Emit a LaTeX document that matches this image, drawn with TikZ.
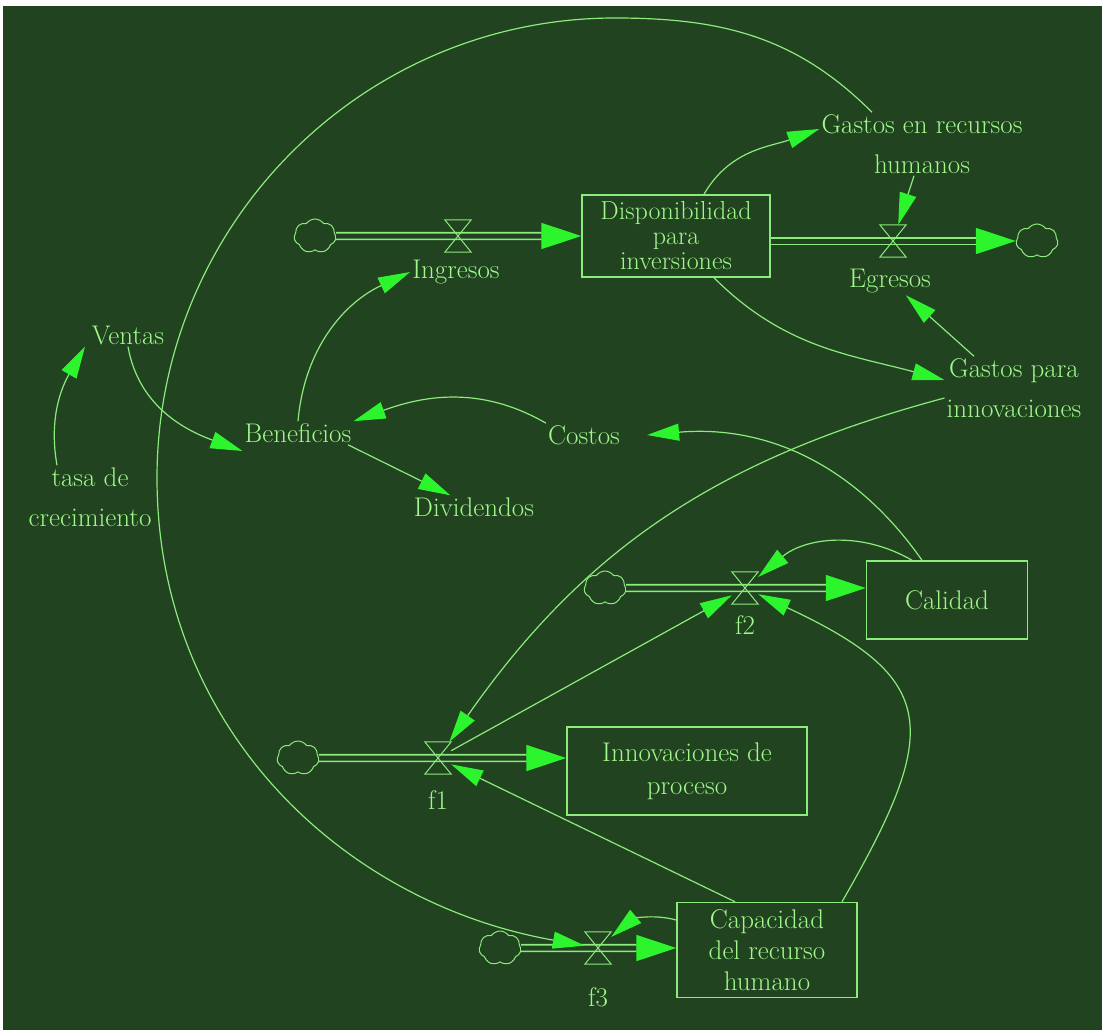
\documentclass[tikz,border=0pt]{standalone}
\usepackage{fontspec}
\usepackage{tikz}
\usetikzlibrary{arrows.meta,shapes.symbols}
\definecolor{bgc}{RGB}{33,67,32}
\definecolor{linec}{RGB}{140,235,125}
\definecolor{tipc}{RGB}{45,245,45}
\definecolor{textc}{RGB}{160,248,140}

\begin{document}
\begin{tikzpicture}[x=1pt,y=-1pt,
  var/.style={text=textc,font=\fontsize{27}{40}\selectfont,align=center,inner sep=2pt},
  stock/.style={draw=linec,line width=1.5pt,text=textc,font=\fontsize{27}{31}\selectfont,align=center,inner sep=0pt},
  valve/.style={minimum width=26pt,minimum height=32pt,inner sep=0pt},
  sink/.style={cloud,cloud puffs=7,cloud puff arc=110,cloud ignores aspect,draw=linec,line width=1pt,minimum width=42pt,minimum height=34pt,inner sep=0pt},
  flow/.style={draw=linec,line width=1.6pt,double=bgc,double distance=5pt,-{Triangle[length=40pt,width=26pt,color=tipc]}},
  conn/.style={draw=linec,line width=1.2pt,-{Triangle[length=32pt,width=17pt,color=tipc]}},
  valveline/.style={draw=linec,line width=1pt}]
\useasboundingbox (0,0) rectangle (1102,1030);
\fill[white] (0,0) rectangle (1102,1030);
\fill[bgc] (3,6) rectangle (1102,1030);

% stocks
\node[stock,minimum width=188pt,minimum height=82pt,font=\fontsize{26}{25}\selectfont] (disp) at (676,236) {Disponibilidad\\para\\inversiones};
\node[stock,minimum width=161pt,minimum height=78pt] (cal) at (947,600) {Calidad};
\node[stock,minimum width=240pt,minimum height=88pt,font=\fontsize{27}{33}\selectfont] (inn) at (687,771) {Innovaciones de\\proceso};
\node[stock,minimum width=180pt,minimum height=95pt] (cap) at (767,950) {Capacidad\\del recurso\\humano};

% valves and clouds
\node[valve] (vIng) at (458,236) {};
\node[valve] (vEgr) at (893,241) {};
\node[valve] (vF2) at (745,588) {};
\node[valve] (vF1) at (438,758) {};
\node[valve] (vF3) at (598,948) {};
\node[sink] (cIng) at (315,236) {};
\node[sink] (cEgr) at (1037,241) {};
\node[sink] (cF2) at (605,588) {};
\node[sink] (cF1) at (298,758) {};
\node[sink] (cF3) at (500,948) {};

% variables
\node[var] (grh) at (922,144) {Gastos en recursos\\humanos};
\node[var] (gpi) at (1014,388) {Gastos para\\innovaciones};
\node[var] (ventas) at (128,335) {Ventas};
\node[var] (tasa) at (90,497) {tasa de\\crecimiento};
\node[var] (benef) at (298,433) {Beneficios};
\node[var] (costos) at (584,435) {Costos};
\node[var] (divid) at (474,507) {Dividendos};
\node[var] (ing) at (456,272) {Ingresos};
\node[var] (egr) at (890,281) {Egresos};
\node[var] (lf1) at (438,800) {f1};
\node[var] (lf2) at (745,625) {f2};
\node[var] (lf3) at (598,997) {f3};

% flows
\draw[flow] (cIng) -- (disp);
\draw[flow] (disp.east |- vEgr) -- (cEgr);
\draw[flow] (cF2) -- (vF2 -| cal.west);
\draw[flow] (cF1) -- (vF1 -| inn.west);
\draw[flow] (cF3) -- (vF3 -| cap.west);
\foreach \v in {vIng,vEgr,vF1,vF2,vF3}
  \draw[valveline] (\v.north west) -- (\v.north east) -- (\v.south west) -- (\v.south east) -- cycle;

% links
\coordinate (arcTop) at (615,18);
\coordinate (arcLeft) at (157,478);
\draw[conn] ([xshift=28]disp.north) to[out=60,in=200] ([yshift=15]grh.west);
\draw[conn] ([xshift=-8]grh.south) -- (vEgr);
\draw[conn] ([xshift=38]disp.south) to[out=-45,in=165] ([yshift=8]gpi.west);
\draw[conn] ([xshift=-40]gpi.north) -- (egr);
\draw[conn] (benef.north) to[out=85,in=205] (ing.west);
\draw[conn] (ventas.south) to[out=-80,in=160] ([yshift=-18]benef.west);
\draw[conn] ([xshift=-33]tasa.north) to[out=100,in=240] ([xshift=-43]ventas.south);
\draw[conn] (costos.north west) to[out=150,in=20] (benef.north east);
\draw[conn] ([xshift=50]benef.south) -- (divid);
\draw[conn] ([xshift=-25]cal.north) to[out=125,in=5] ([xshift=25]costos.east);
\draw[conn] ([xshift=-35]cal.north) to[out=150,in=40] (vF2);
\draw[conn] ([yshift=-10]gpi.west) to[out=195,in=55] (vF1);
\draw[conn] (vF1) -- (vF2);
\draw[conn] ([xshift=75]cap.north) to[out=60,in=-25,looseness=1.6] (vF2);
\draw[conn] ([xshift=-32]cap.north) -- (vF1);
\draw[conn] ([yshift=30]cap.west) to[out=165,in=40] (vF3);
\draw[conn] ([xshift=-50]grh.north) to[out=135,in=0] (arcTop) to[out=180,in=90] (arcLeft) to[out=270,in=170] (vF3);
\end{tikzpicture}
\end{document}
